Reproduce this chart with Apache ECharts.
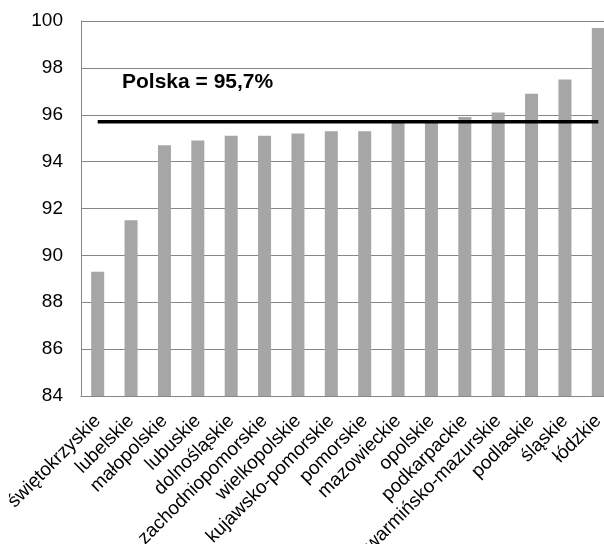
<!DOCTYPE html>
<html>
<head>
<meta charset="utf-8">
<script src="https://cdn.jsdelivr.net/npm/echarts@6/dist/echarts.min.js"></script>
<style>
html,body{margin:0;padding:0;background:#fff;}
#chart{width:604px;height:544px;}
</style>
</head>
<body>
<div id="chart"></div>
<script>
const categories = ['świętokrzyskie','lubelskie','małopolskie','lubuskie','dolnośląskie','zachodniopomorskie','wielkopolskie','kujawsko-pomorskie','pomorskie','mazowieckie','opolskie','podkarpackie','warmińsko-mazurskie','podlaskie','śląskie','łódzkie'];
const regionValues = [89.3,91.5,94.7,94.9,95.1,95.1,95.2,95.3,95.3,95.7,95.7,95.9,96.1,96.9,97.5,99.7];
const polskaValue = 95.7;
const polskaLabel = 'Polska = 95,7%';
const yMin = 84, yMax = 100, yInterval = 2;

const font = '"Liberation Sans", Arial, sans-serif';
const chart = echarts.init(document.getElementById('chart'));
chart.setOption({
  animation: false,
  backgroundColor: '#fff',
  title: {
    text: polskaLabel,
    left: 122,
    top: 72,
    padding: 0,
    textStyle: {fontFamily: font, fontSize: 21, fontWeight: 'bold', color: '#000'}
  },
  grid: {left: 81, right: -11, top: 21, bottom: 148, containLabel: false, outerBoundsMode: 'none'},
  xAxis: {
    type: 'category',
    data: categories,
    axisLine: {show: true, lineStyle: {color: '#868686', width: 1}},
    axisTick: {show: false},
    axisLabel: {interval: 0, rotate: 45, fontFamily: font, fontSize: 19, color: '#000', margin: 22}
  },
  yAxis: {
    type: 'value',
    min: yMin, max: yMax, interval: yInterval,
    axisLine: {show: true, lineStyle: {color: '#868686', width: 1}},
    axisTick: {show: false},
    splitLine: {show: true, lineStyle: {color: '#868686', width: 1}},
    axisLabel: {fontFamily: font, fontSize: 19, color: '#000', margin: 18}
  },
  series: [
    {
      type: 'bar',
      data: regionValues,
      barWidth: 13,
      itemStyle: {color: '#a6a6a6'}
    },
    {
      type: 'line',
      data: categories.map(() => polskaValue),
      symbol: 'none',
      lineStyle: {color: '#000', width: 3.5},
      z: 5
    }
  ]
});
</script>
</body>
</html>
